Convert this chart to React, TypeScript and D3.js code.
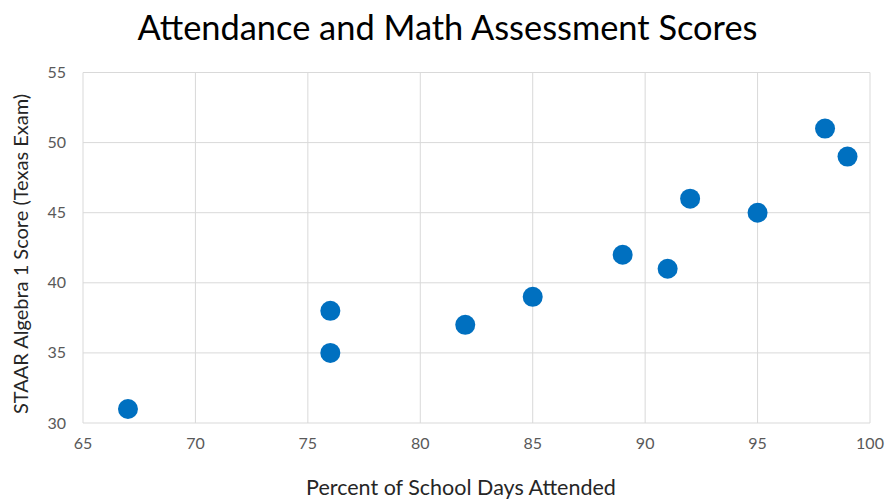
import React from "react";
import * as d3 from "d3";

const attendance = [67, 76, 76, 82, 85, 89, 91, 92, 95, 98, 99];
const scores = [31, 38, 35, 37, 39, 42, 41, 46, 45, 51, 49];
const xTicks = [65, 70, 75, 80, 85, 90, 95, 100];
const yTicks = [30, 35, 40, 45, 50, 55];

const W = 887;
const H = 500;
const FONT = "Lato, 'Open Sans', sans-serif";

export default function App() {
  const x = d3.scaleLinear().domain([65, 100]).range([83, 870]);
  const y = d3.scaleLinear().domain([30, 55]).range([423, 72.5]);
  return (
    <svg width={W} height={H} style={{ position: "absolute", left: 0, top: 0 }} fontFamily={FONT}>
      <rect width={W} height={H} fill="#fff" />
      <text x={447.5} y={40} textAnchor="middle" fontSize={34.4} fill="#000">
        Attendance and Math Assessment Scores
      </text>
      {xTicks.map((t) => (
        <line key={"gx" + t} x1={x(t)} x2={x(t)} y1={y(55)} y2={y(30)} stroke="#d9d9d9" strokeWidth={1} />
      ))}
      {yTicks.map((t) => (
        <line key={"gy" + t} x1={x(65)} x2={x(100)} y1={y(t)} y2={y(t)} stroke="#d9d9d9" strokeWidth={1} />
      ))}
      {xTicks.map((t) => (
        <text key={"tx" + t} x={x(t)} y={449} textAnchor="middle" fontSize={16} fill="#595959">
          {t}
        </text>
      ))}
      {yTicks.map((t) => (
        <text key={"ty" + t} x={66} y={y(t) + 5.5} textAnchor="end" fontSize={16} fill="#595959">
          {t}
        </text>
      ))}
      {attendance.map((a, i) => (
        <circle key={"p" + i} cx={x(a)} cy={y(scores[i])} r={10} fill="#0070c0" />
      ))}
      <text x={461} y={494.5} textAnchor="middle" fontSize={21.5} fill="#262626">
        Percent of School Days Attended
      </text>
      <text
        transform={`translate(28,254) rotate(-90)`}
        textAnchor="middle"
        fontSize={20}
        fill="#262626"
      >
        STAAR Algebra 1 Score (Texas Exam)
      </text>
    </svg>
  );
}
